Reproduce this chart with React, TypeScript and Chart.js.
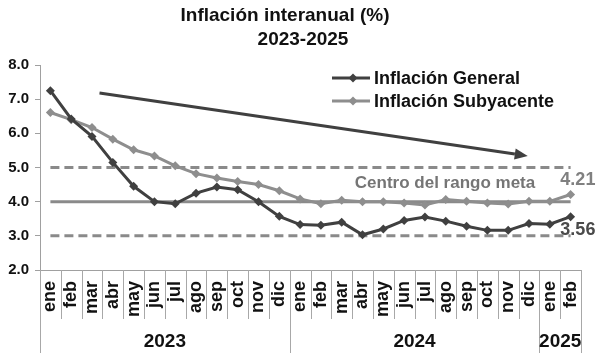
import React, { useEffect, useRef } from "react";
import { Chart, registerables } from "chart.js";

Chart.register(...registerables);

const months = ["ene","feb","mar","abr","may","jun","jul","ago","sep","oct","nov","dic","ene","feb","mar","abr","may","jun","jul","ago","sep","oct","nov","dic","ene","feb"];
const years = ["2023", "2024", "2025"];
const yearFirstIndex = [0, 12, 24];
const yearLastIndex = [11, 23, 25];

const general = [7.25,6.42,5.91,5.15,4.45,4.0,3.94,4.25,4.43,4.35,4.0,3.57,3.33,3.31,3.4,3.03,3.2,3.45,3.55,3.43,3.28,3.16,3.16,3.36,3.34,3.56];
const core = [6.61,6.4,6.17,5.83,5.52,5.34,5.05,4.82,4.69,4.59,4.5,4.32,4.08,3.94,4.04,4.0,4.0,3.96,3.9,4.06,4.01,3.96,3.93,4.01,4.01,4.21];

const upperBand = 5.0;
const targetCenter = 4.0;
const lowerBand = 3.0;

const yMin = 2;
const yMax = 8;

const seriesNames = ["Inflación General", "Inflación Subyacente"];
const titleLines = ["Inflación interanual (%)", "2023-2025"];
const rangeLabel = "Centro del rango meta";
const lastCore = "4.21";
const lastGeneral = "3.56";

// trend arrow in data units [categoryIndex, value]
const arrowFrom = [2.36, 7.18];
const arrowTo = [22.94, 5.34];

const FONT = "'Liberation Sans', Arial, sans-serif";
const DARK = "#404040";
const LIGHT = "#8e8e8e";

const overlayPlugin = {
  id: "overlay",
  afterDraw(chart: any) {
    const { ctx, chartArea } = chart;
    const x = chart.scales.x;
    const y = chart.scales.y;
    ctx.save();

    // category separators below axis
    ctx.strokeStyle = "#a8a8a8";
    ctx.lineWidth = 1;
    for (let i = 0; i <= months.length; i++) {
      const px = Math.round(x.getPixelForValue(i - 0.5)) + 0.5;
      const isYear = i === months.length || yearFirstIndex.includes(i);
      ctx.beginPath();
      ctx.moveTo(px, chartArea.bottom);
      ctx.lineTo(px, chartArea.bottom + (isYear ? 83 : 49));
      ctx.stroke();
    }

    // year labels
    ctx.fillStyle = "#111";
    ctx.font = `bold 19px ${FONT}`;
    ctx.textAlign = "center";
    ctx.textBaseline = "middle";
    years.forEach((yr, k) => {
      const cx = (x.getPixelForValue(yearFirstIndex[k]) + x.getPixelForValue(yearLastIndex[k])) / 2;
      ctx.fillText(yr, cx, chartArea.bottom + 72);
    });

    // title
    ctx.font = `bold 19px ${FONT}`;
    ctx.fillStyle = "#111";
    ctx.fillText(titleLines[0], 285, 16);
    ctx.fillText(titleLines[1], 303, 40);

    // legend
    const legendColors = [DARK, LIGHT];
    const legendY = [78, 101];
    legendColors.forEach((c, k) => {
      const ly = legendY[k];
      ctx.strokeStyle = c;
      ctx.lineWidth = 3;
      ctx.beginPath();
      ctx.moveTo(332, ly);
      ctx.lineTo(370, ly);
      ctx.stroke();
      ctx.fillStyle = c;
      ctx.beginPath();
      ctx.moveTo(353, ly - 4.5);
      ctx.lineTo(357.5, ly);
      ctx.lineTo(353, ly + 4.5);
      ctx.lineTo(348.5, ly);
      ctx.closePath();
      ctx.fill();
      ctx.fillStyle = "#111";
      ctx.font = `bold 18px ${FONT}`;
      ctx.textAlign = "left";
      ctx.textBaseline = "middle";
      ctx.fillText(seriesNames[k], 374, ly + 1);
    });

    // trend arrow
    const ax0 = x.getPixelForValue(arrowFrom[0]);
    const ay0 = y.getPixelForValue(arrowFrom[1]);
    const ax1 = x.getPixelForValue(arrowTo[0]);
    const ay1 = y.getPixelForValue(arrowTo[1]);
    const ang = Math.atan2(ay1 - ay0, ax1 - ax0);
    const headLen = 13;
    const headHalf = 5.5;
    const bx = ax1 - headLen * Math.cos(ang);
    const by = ay1 - headLen * Math.sin(ang);
    ctx.strokeStyle = DARK;
    ctx.lineWidth = 3;
    ctx.beginPath();
    ctx.moveTo(ax0, ay0);
    ctx.lineTo(bx, by);
    ctx.stroke();
    ctx.fillStyle = DARK;
    ctx.beginPath();
    ctx.moveTo(ax1, ay1);
    ctx.lineTo(bx + headHalf * Math.sin(ang), by - headHalf * Math.cos(ang));
    ctx.lineTo(bx - headHalf * Math.sin(ang), by + headHalf * Math.cos(ang));
    ctx.closePath();
    ctx.fill();

    // range label
    ctx.font = `bold 17px ${FONT}`;
    ctx.fillStyle = "#757575";
    ctx.textAlign = "right";
    ctx.textBaseline = "middle";
    ctx.fillText(rangeLabel, x.getPixelForValue(23.3), y.getPixelForValue(4.53));

    // end labels
    ctx.textAlign = "center";
    ctx.font = `bold 18px ${FONT}`;
    ctx.fillStyle = "#808080";
    ctx.fillText(lastCore, x.getPixelForValue(25.35), y.getPixelForValue(4.64));
    ctx.fillStyle = "#4a4a4a";
    ctx.fillText(lastGeneral, x.getPixelForValue(25.35), y.getPixelForValue(3.17));

    ctx.restore();
  },
};

export default function App() {
  const ref = useRef<HTMLCanvasElement | null>(null);

  useEffect(() => {
    if (!ref.current) return;
    const constLine = (v: number) => months.map(() => v);
    const chart = new Chart(ref.current, {
      type: "line",
      data: {
        labels: months,
        datasets: [
          {
            label: seriesNames[0],
            data: general,
            borderColor: DARK,
            backgroundColor: DARK,
            borderWidth: 3,
            pointStyle: "rectRot",
            pointRadius: 4.5,
            pointBorderWidth: 0,
            tension: 0,
          },
          {
            label: seriesNames[1],
            data: core,
            borderColor: LIGHT,
            backgroundColor: LIGHT,
            borderWidth: 3,
            pointStyle: "rectRot",
            pointRadius: 4.5,
            pointBorderWidth: 0,
            tension: 0,
          },
          {
            label: "upper",
            data: constLine(upperBand),
            borderColor: "#8a8a8a",
            borderWidth: 3,
            borderDash: [9, 5],
            pointRadius: 0,
          },
          {
            label: "center",
            data: constLine(targetCenter),
            borderColor: "#8a8a8a",
            borderWidth: 3,
            pointRadius: 0,
          },
          {
            label: "lower",
            data: constLine(lowerBand),
            borderColor: "#8a8a8a",
            borderWidth: 3,
            borderDash: [9, 5],
            pointRadius: 0,
          },
        ],
      },
      options: {
        responsive: false,
        animation: false,
        events: [],
        layout: { padding: { top: 65, right: 24, left: 0, bottom: 0 } },
        plugins: {
          legend: { display: false },
          title: { display: false },
          tooltip: { enabled: false },
        },
        scales: {
          x: {
            type: "category",
            offset: true,
            grid: { display: false, drawTicks: false },
            border: { display: true, color: "#a0a0a0", width: 1 },
            ticks: {
              autoSkip: false,
              minRotation: 90,
              maxRotation: 90,
              padding: 11,
              color: "#111",
              font: { family: FONT, size: 18, weight: "bold" },
            },
            afterFit: (s: any) => {
              s.height = 87;
            },
          },
          y: {
            min: yMin,
            max: yMax,
            grid: { drawOnChartArea: false, drawTicks: true, tickLength: 5, color: "#a0a0a0" },
            border: { display: true, color: "#a0a0a0", width: 1 },
            ticks: {
              stepSize: 1,
              padding: 6,
              color: "#111",
              font: { family: FONT, size: 15, weight: "bold" },
              callback: (v: any) => Number(v).toFixed(1),
            },
            afterFit: (s: any) => {
              s.width = 40;
            },
          },
        },
      },
      plugins: [overlayPlugin],
    });
    return () => chart.destroy();
  }, []);

  return (
    <div style={{ position: "fixed", left: 0, top: 0, width: 605, height: 357, background: "#fff" }}>
      <canvas ref={ref} width={605} height={357} />
    </div>
  );
}
